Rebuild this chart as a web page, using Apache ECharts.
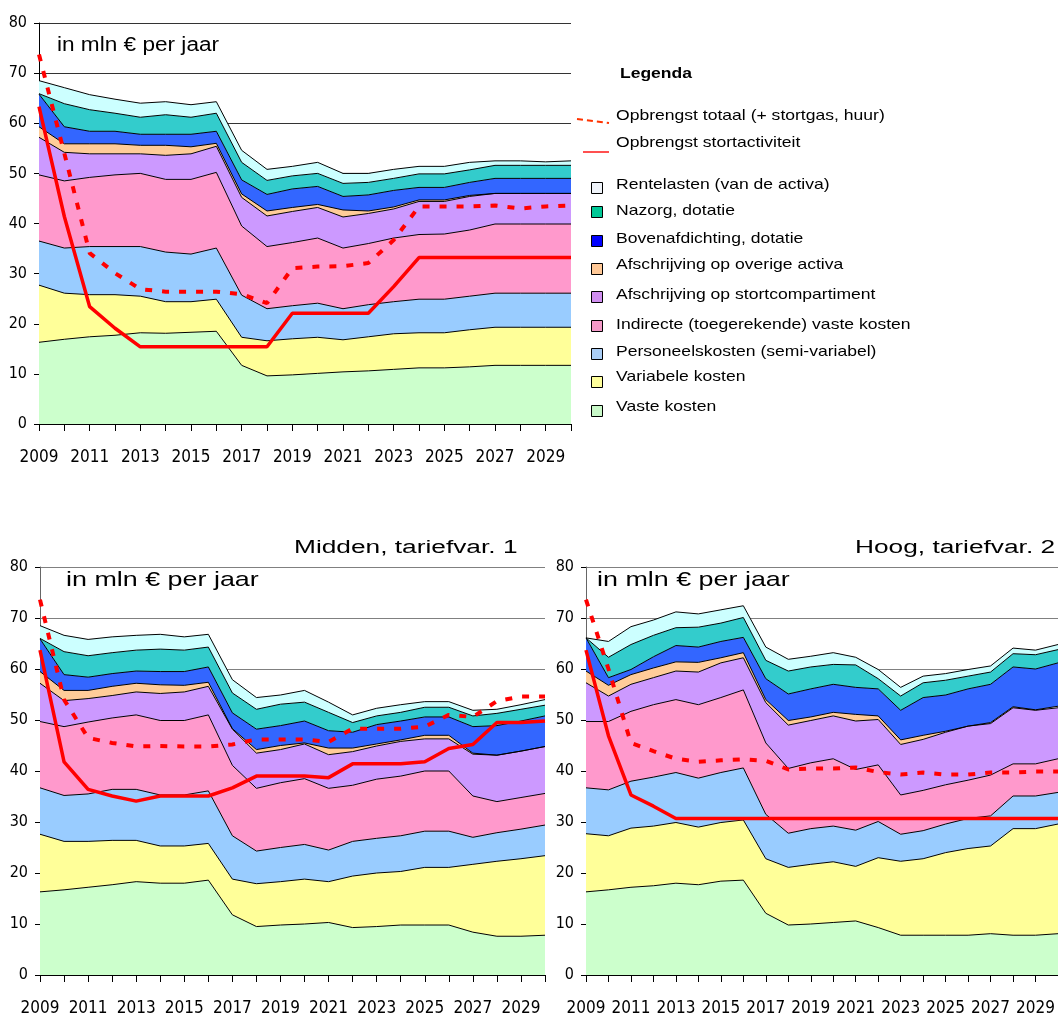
<!DOCTYPE html>
<html>
<head>
<meta charset="utf-8">
<script src="https://cdn.jsdelivr.net/npm/echarts@6/dist/echarts.min.js"></script>
<style>html,body{margin:0;padding:0;background:#fff;}#c{width:1058px;height:1019px;}</style>
</head>
<body>
<div id="c"></div>
<script>
const years = ['2009','2010','2011','2012','2013','2014','2015','2016','2017','2018','2019','2020','2021','2022','2023','2024','2025','2026','2027','2028','2029','2030'];
const yTicks = [0, 80, 10];

// Chart 1 (top)
const c1_vaste = [16.3,16.9,17.4,17.7,18.2,18.1,18.3,18.5,11.7,9.6,9.8,10.1,10.4,10.6,10.9,11.2,11.2,11.4,11.7,11.7,11.7,11.7];
const c1_variabel = [11.4,9.2,8.4,8.1,7.3,6.3,6.1,6.4,5.6,7.0,7.2,7.2,6.4,6.8,7.1,7.0,7.0,7.4,7.6,7.6,7.6,7.6];
const c1_personeel = [8.8,9.0,9.6,9.6,9.9,9.9,9.5,10.2,8.4,6.4,6.6,6.8,6.2,6.4,6.4,6.7,6.7,6.7,6.8,6.8,6.8,6.8];
const c1_indirect = [13.2,13.4,13.8,14.3,14.6,14.5,14.9,15.1,13.8,12.4,12.6,13.0,12.1,12.2,12.7,12.9,13.0,13.2,13.8,13.8,13.8,13.8];
const c1_stortcomp = [7.5,5.7,4.7,4.2,3.9,4.8,5.1,5.2,5.7,6.1,6.2,6.1,6.2,6.0,5.8,6.6,6.5,6.7,6.1,6.1,6.1,6.1];
const c1_overige = [2.1,1.7,2.0,2.0,1.7,2.0,1.4,0.6,0.7,1.0,0.8,0.6,1.4,0.5,0.4,0.3,0.3,0.2,0,0,0,0];
const c1_boven = [6.5,3.4,2.5,2.5,2.2,2.2,2.5,2.4,2.8,3.3,3.7,3.6,2.7,3.2,3.3,2.5,2.5,2.6,3.0,3.0,3.0,3.0];
const c1_nazorg = [0.1,4.6,4.3,3.6,3.4,3.9,3.4,3.6,3.5,2.8,2.6,2.6,2.6,2.5,2.4,2.7,2.7,2.5,2.6,2.6,2.6,2.6];
const c1_rente = [2.6,3.2,3.0,2.8,2.8,2.6,2.5,2.3,2.4,2.2,1.9,2.2,2.0,1.8,1.8,1.5,1.5,1.5,0.9,0.9,0.7,0.9];
const c1_totaal = [73.7,54.0,34.1,30.1,26.9,26.4,26.4,26.4,25.9,24.1,31.1,31.4,31.5,32.1,36.7,43.4,43.4,43.4,43.6,43.0,43.4,43.6];
const c1_stort = [63.3,41.4,23.4,19.1,15.4,15.4,15.4,15.4,15.4,15.4,22.1,22.1,22.1,22.1,27.4,33.2,33.2,33.2,33.2,33.2,33.2,33.2];

// Chart 2 (Midden, tariefvar. 1)
const c2_vaste = [16.3,16.7,17.2,17.7,18.3,18.0,18.0,18.6,11.8,9.5,9.8,10.0,10.3,9.3,9.5,9.8,9.8,9.8,8.4,7.6,7.6,7.8];
const c2_variabel = [11.3,9.5,9.0,8.7,8.1,7.3,7.3,7.2,7.0,8.4,8.5,8.8,8.0,10.1,10.5,10.5,11.3,11.3,13.3,14.7,15.2,15.6];
const c2_personeel = [9.1,9.0,9.3,10.0,10.0,10.0,10.0,10.3,8.5,6.4,6.7,6.8,6.2,6.8,6.8,7.0,7.1,7.1,5.3,5.6,5.8,6.0];
const c2_indirect = [13.0,13.5,14.1,14.0,14.6,14.6,14.6,14.9,13.8,12.3,12.7,12.9,12.1,11.0,11.6,11.7,11.8,11.8,8.1,6.1,6.2,6.2];
const c2_stortcomp = [7.5,5.1,4.6,4.4,4.5,5.3,5.6,5.6,7.1,6.9,6.5,6.8,6.6,6.6,6.5,6.8,6.3,6.3,8.2,9.1,9.1,9.2];
const c2_overige = [2.3,2.0,1.6,1.8,1.7,1.7,1.3,0.8,0.1,0.7,0.8,0.2,1.3,0.7,0.4,0.3,0.7,0.7,0.2,0,0,0];
const c2_boven = [6.4,3.1,2.6,2.5,2.4,2.6,2.7,3.0,3.1,4.0,3.9,4.3,3.4,3.1,3.8,3.7,3.6,3.6,5.2,5.8,5.9,6.0];
const c2_nazorg = [0.1,4.5,4.2,4.1,4.1,4.4,4.2,3.9,3.9,3.9,4.2,3.7,3.6,1.9,1.7,1.7,1.9,1.9,2.1,2.4,2.3,2.1];
const c2_rente = [2.5,3.2,3.2,3.1,2.9,2.9,2.6,2.5,2.6,2.3,1.8,2.3,2.0,1.5,1.5,1.5,1.1,1.1,1.1,0.8,0.9,1.1];
const c2_totaal = [73.6,54.0,46.5,45.5,44.8,44.9,44.8,44.8,45.2,46.2,46.2,46.2,45.7,48.3,48.3,48.3,48.7,51.0,50.6,53.7,54.6,54.6];
const c2_stort = [63.7,41.8,36.4,35.1,34.1,35.1,35.1,35.1,36.7,39.0,39.0,39.0,38.7,41.4,41.4,41.4,41.8,44.4,45.2,49.5,49.5,49.8];

// Chart 3 (Hoog, tariefvar. 2)
const c3_vaste = [16.3,16.7,17.2,17.5,18.0,17.7,18.4,18.6,12.1,9.8,10.0,10.3,10.6,9.3,7.8,7.8,7.8,7.8,8.1,7.8,7.8,8.1];
const c3_variabel = [11.4,10.6,11.6,11.7,11.9,11.3,11.5,11.8,10.7,11.3,11.7,11.9,10.7,13.7,14.5,15.0,16.2,17.0,17.2,20.9,20.9,21.5];
const c3_personeel = [9.0,9.0,9.2,9.6,9.8,9.6,9.8,10.2,8.7,6.7,7.0,7.0,7.1,7.1,5.3,5.5,5.6,5.9,5.9,6.4,6.4,6.2];
const c3_indirect = [13.0,13.4,13.7,14.2,14.3,14.4,14.7,15.3,14.0,12.7,12.9,13.2,11.9,11.1,7.7,7.9,7.7,7.5,8.0,6.3,6.3,6.6];
const c3_stortcomp = [7.6,5.0,5.3,5.3,5.6,6.4,6.8,6.3,7.9,8.5,8.3,8.4,9.5,8.9,9.9,10.0,10.3,10.6,10.1,11.0,10.5,10.0];
const c3_overige = [2.3,2.1,1.9,1.9,1.8,1.9,1.0,1.0,0.6,0.9,0.7,0.7,1.3,0.7,0.9,0.8,0.2,0,0.2,0.2,0.1,0.3];
const c3_boven = [6.5,1.5,1.0,2.2,3.2,3.0,3.2,3.0,4.1,5.2,5.5,5.5,5.3,5.3,5.8,7.4,7.1,7.3,7.5,7.8,8.0,8.5];
const c3_nazorg = [0,4.0,4.9,4.2,3.5,3.9,3.6,3.9,3.6,4.5,4.3,3.9,4.4,2.0,2.8,2.9,2.9,2.5,2.4,2.6,2.8,2.6];
const c3_rente = [0,3.1,3.5,3.0,3.1,2.6,2.6,2.3,2.6,2.3,2.1,2.3,1.5,1.8,1.7,1.3,1.3,1.3,1.2,1.1,0.9,1.0];
const c3_totaal = [73.6,60.0,45.5,43.9,42.4,41.8,42.1,42.3,42.0,40.3,40.5,40.5,40.7,39.8,39.3,39.7,39.3,39.3,39.7,39.7,39.9,39.9];
const c3_stort = [63.7,46.9,35.3,33.1,30.7,30.7,30.7,30.7,30.7,30.7,30.7,30.7,30.7,30.7,30.7,30.7,30.7,30.7,30.7,30.7,30.7,30.7];

const costNames = ['Vaste kosten','Variabele kosten','Personeelskosten (semi-variabel)','Indirecte (toegerekende) vaste kosten','Afschrijving op stortcompartiment','Afschrijving op overige activa','Bovenafdichting, dotatie','Nazorg, dotatie','Rentelasten (van de activa)'];
const lineNames = ['Opbrengst totaal (+ stortgas, huur)','Opbrengst stortactiviteit'];
const areaColors = ['#CCFFCC','#FFFF99','#99CCFF','#FF99CC','#CC99FF','#FFCC99','#3366FF','#33CCCC','#CCFFFF'];
const legendColors = ['#C8F8C8','#FFFF9C','#A8CCF4','#F49AC8','#D08EF0','#FFC896','#0000FF','#00C896','#F0F4FA'];

const charts = [
  {costs:[c1_vaste,c1_variabel,c1_personeel,c1_indirect,c1_stortcomp,c1_overige,c1_boven,c1_nazorg,c1_rente], totaal:c1_totaal, stort:c1_stort},
  {costs:[c2_vaste,c2_variabel,c2_personeel,c2_indirect,c2_stortcomp,c2_overige,c2_boven,c2_nazorg,c2_rente], totaal:c2_totaal, stort:c2_stort},
  {costs:[c3_vaste,c3_variabel,c3_personeel,c3_indirect,c3_stortcomp,c3_overige,c3_boven,c3_nazorg,c3_rente], totaal:c3_totaal, stort:c3_stort}
];

const grids = [
  {left:39, top:23, width:532, height:401},
  {left:40, top:567, width:505, height:408},
  {left:586, top:567, width:476, height:408}
];
const gridColor = ['#333333','#808080','#808080'];
const narrow = '"Liberation Sans Narrow","DejaVu Sans Condensed",sans-serif';

const xAxes = [], yAxes = [], series = [];
charts.forEach((ch, i) => {
  xAxes.push({
    gridIndex:i, type:'category', data:years, boundaryGap:false,
    axisLine:{show:true, lineStyle:{color:'#000', width:1}},
    axisTick:{show:true, interval:0, length:7, lineStyle:{color:'#000'}},
    axisLabel:{interval:1, color:'#000', fontFamily:narrow, fontSize:17, margin:25},
    splitLine:{show:false}
  });
  yAxes.push({
    gridIndex:i, type:'value', min:yTicks[0], max:yTicks[1], interval:yTicks[2],
    axisLine:{show:true, lineStyle:{color:i===0?'#000':'#666', width:1}},
    axisTick:{show:true, length:5, lineStyle:{color:'#000'}},
    axisLabel:{color:'#000', fontFamily:narrow, fontSize:16, margin:12},
    splitLine:{show:true, lineStyle:{color:gridColor[i], width:1}}
  });
  ch.costs.forEach((arr, k) => {
    series.push({
      name:costNames[k], type:'line', xAxisIndex:i, yAxisIndex:i, stack:'kost'+i,
      data:arr, symbol:'none', smooth:false, z:2,
      lineStyle:{color:'#000', width:1},
      areaStyle:{color:areaColors[k], opacity:1},
      emphasis:{disabled:true}, animation:false
    });
  });
  series.push({
    name:lineNames[0], type:'line', xAxisIndex:i, yAxisIndex:i, data:ch.totaal,
    symbol:'none', z:4, lineStyle:{color:'#FF0000', width:4, type:[7,10], cap:'butt'},
    emphasis:{disabled:true}, animation:false
  });
  series.push({
    name:lineNames[1], type:'line', xAxisIndex:i, yAxisIndex:i, data:ch.stort,
    symbol:'none', z:4, lineStyle:{color:'#FF0000', width:3.5},
    emphasis:{disabled:true}, animation:false
  });
});

const font = (sz, bold) => (bold ? 'bold ' : '') + sz + 'px "Liberation Sans", Arial, sans-serif';
const graphic = [];
function txt(x, y, t, sz, sx, bold) {
  graphic.push({type:'text', x:x, y:y, scaleX:sx, z:10,
    style:{text:t, font:font(sz, bold), fill:'#000', align:'left', verticalAlign:'middle'}});
}
txt(57, 45, 'in mln € per jaar', 20, 1.13);
txt(66, 580, 'in mln € per jaar', 21, 1.28);
txt(597, 580, 'in mln € per jaar', 21, 1.28);
txt(294, 548, 'Midden, tariefvar. 1', 18, 1.46);
txt(855, 548, 'Hoog, tariefvar. 2', 18, 1.46);
txt(620, 74, 'Legenda', 14, 1.25, true);

// legend: line samples
graphic.push({type:'line', z:10, shape:{x1:577, y1:119, x2:609, y2:123},
  style:{stroke:'#FF3300', lineWidth:2, lineDash:[6,4]}});
graphic.push({type:'line', z:10, shape:{x1:583, y1:152, x2:609, y2:152},
  style:{stroke:'#FF5050', lineWidth:2}});
txt(616, 116, lineNames[0], 15, 1.17);
txt(616, 143, lineNames[1], 15, 1.17);

const legendY = [411, 382, 354, 326, 297, 269, 241, 212, 188];
const legendTY = [407, 377, 352, 325, 295, 265, 239, 211, 185];
costNames.forEach((n, k) => {
  graphic.push({type:'rect', z:10, shape:{x:591.5, y:legendY[k]-5.5, width:11, height:11},
    style:{fill:legendColors[k], stroke:'#000', lineWidth:1}});
  txt(616, legendTY[k], n, 15, 1.17);
});

const chart = echarts.init(document.getElementById('c'), null, {renderer:'canvas'});
chart.setOption({
  animation:false,
  backgroundColor:'#ffffff',
  grid:grids,
  xAxis:xAxes,
  yAxis:yAxes,
  series:series,
  graphic:graphic
});
</script>
</body>
</html>
